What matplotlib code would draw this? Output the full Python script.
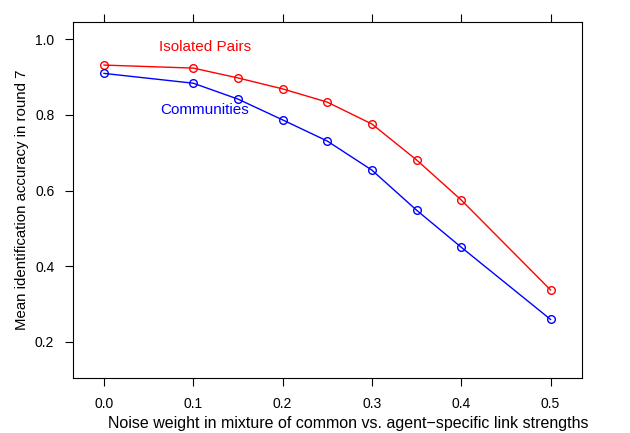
import matplotlib
matplotlib.use('Agg')
import matplotlib.pyplot as plt
from matplotlib import rcParams

rcParams['font.family'] = ['Liberation Sans', 'DejaVu Sans']

# noise weight and mean accuracy per condition
noise = [0.0, 0.1, 0.15, 0.2, 0.25, 0.3, 0.35, 0.4, 0.5]
isolated_pairs = [0.932, 0.924, 0.898, 0.869, 0.834, 0.776, 0.681, 0.575, 0.337]
communities = [0.910, 0.884, 0.842, 0.787, 0.731, 0.654, 0.548, 0.450, 0.259]

xticks = [0.0, 0.1, 0.2, 0.3, 0.4, 0.5]
yticks = [0.2, 0.4, 0.6, 0.8, 1.0]

fig = plt.figure(figsize=(6.3, 4.33), dpi=100)
ax = fig.add_axes([0.1159, 0.127, 0.8079, 0.8222])

ax.plot(noise, isolated_pairs, color='red', lw=1, marker='o', ms=5.5,
        mfc='none', mew=1)
ax.plot(noise, communities, color='blue', lw=1, marker='o', ms=5.5,
        mfc='none', mew=1)

ax.text(0.113, 0.98, 'Isolated Pairs', color='red', fontsize=11, ha='center', va='center')
ax.text(0.113, 0.813, 'Communities', color='blue', fontsize=11, ha='center', va='center')

ax.set_xlim(-0.0347, 0.5352)
ax.set_ylim(0.104, 1.046)
ax.set_xticks(xticks)
ax.set_xticklabels(['%.1f' % v for v in xticks])
ax.set_yticks(yticks)
ax.set_yticklabels(['%.1f' % v for v in yticks])
ax.tick_params(axis='both', direction='out', length=5.5, width=0.8, labelsize=10, pad=8)
ax.tick_params(axis='x', top=True, labeltop=False)

for s in ax.spines.values():
    s.set_linewidth(0.8)

ax.set_xlabel('Noise weight in mixture of common vs. agent\u2212specific link strengths',
              fontsize=11.5)
ax.xaxis.set_label_coords(0.54, -0.108)
ax.set_ylabel('Mean identification accuracy in round 7', fontsize=10.8, labelpad=4)

fig.savefig('out.png', dpi=100)
